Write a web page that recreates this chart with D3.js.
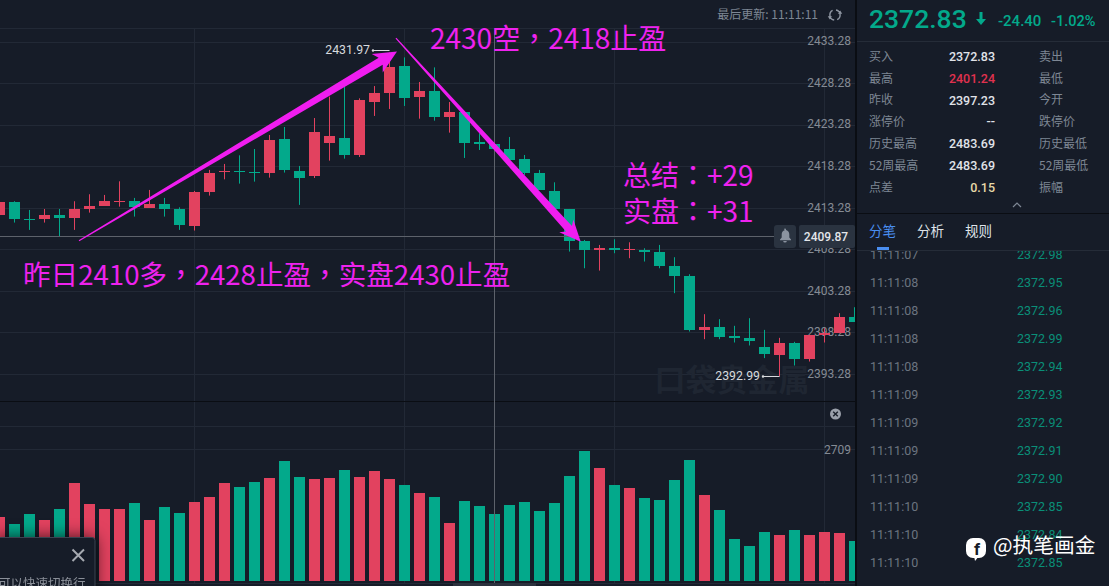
<!DOCTYPE html>
<html>
<head>
<meta charset="utf-8">
<title>chart</title>
<script src="https://cdn.jsdelivr.net/npm/d3@7"></script>
<style>
html, body { margin: 0; padding: 0; background: #161c28; overflow: hidden; }
svg { display: block; }
text { font-family: Roboto, "Noto Sans CJK SC", sans-serif; }
.cjk { font-family: "Noto Sans CJK SC", sans-serif; }
.note { font-family: "Noto Sans CJK TC", sans-serif; }
</style>
</head>
<body>
<div id="chart"></div>
<script>
// candles, one entry per bar
var opens = [2412.42,2413.99,2411.94,2411.94,2412.42,2412.06,2413.14,2413.51,2413.99,2414.11,2413.26,2413.75,2413.14,2411.10,2415.19,2417.60,2417.72,2417.60,2417.48,2421.57,2417.72,2417.12,2421.09,2421.69,2419.64,2426.02,2427.10,2430.35,2426.62,2427.34,2424.21,2424.82,2421.21,2420.97,2420.36,2419.16,2417.48,2415.31,2413.14,2409.29,2408.21,2408.45,2408.21,2408.21,2407.97,2406.29,2405.08,2398.58,2398.95,2397.86,2397.62,2396.54,2395.58,2397.02,2395.10,2397.98,2398.22,2400.15];
var closes = [2413.95,2411.94,2411.82,2412.42,2412.06,2413.14,2413.51,2414.11,2414.11,2413.38,2413.75,2413.14,2411.22,2415.19,2417.48,2417.72,2417.60,2417.48,2421.45,2417.84,2416.87,2422.41,2421.93,2419.64,2426.26,2427.10,2430.23,2426.50,2427.34,2424.21,2424.82,2421.09,2420.97,2420.36,2419.04,2417.48,2415.43,2413.14,2409.29,2408.21,2408.45,2408.21,2408.33,2408.01,2406.29,2405.08,2398.58,2398.95,2397.74,2397.62,2397.26,2395.70,2397.02,2395.10,2397.98,2398.22,2400.15,2399.55];
var highs = [2413.95,2414.07,2413.02,2413.14,2413.14,2414.07,2414.91,2414.83,2416.47,2414.47,2415.43,2414.47,2413.34,2415.31,2417.84,2418.56,2419.60,2420.36,2422.05,2423.01,2418.32,2424.09,2426.66,2427.86,2426.46,2427.94,2431.97,2431.39,2428.43,2430.19,2426.02,2424.82,2422.25,2421.65,2421.81,2419.64,2417.84,2416.35,2413.14,2409.41,2408.81,2409.49,2409.13,2408.41,2408.81,2407.33,2405.28,2400.47,2399.87,2399.07,2399.99,2398.58,2397.62,2397.14,2397.98,2398.78,2400.59,2401.31];
var lows = [2412.42,2411.50,2410.62,2411.50,2409.82,2410.62,2412.70,2413.51,2413.42,2412.22,2413.26,2412.22,2410.62,2410.54,2414.75,2416.71,2416.19,2416.43,2416.91,2417.52,2413.63,2416.87,2418.96,2419.20,2419.40,2424.34,2425.18,2425.54,2424.01,2423.77,2422.33,2419.28,2420.24,2419.24,2418.56,2417.24,2415.43,2413.02,2408.01,2406.00,2405.72,2407.81,2407.21,2406.81,2406.00,2403.00,2398.38,2397.46,2397.46,2397.06,2396.70,2395.18,2392.99,2394.29,2394.77,2397.06,2398.18,2399.55];
var volumes = [1323,1173,1385,1262,1488,2023,1591,1488,1488,1611,1262,1529,1406,1632,1735,2023,1941,2043,2126,2475,2146,2105,2126,2290,2146,2270,2105,1982,1817,1728,1200,1646,1543,1378,1563,1625,1440,1605,2160,2674,2325,1975,1913,1707,1666,2078,2489,1769,1461,864,720,1008,946,1049,946,1008,987,823];

var priceTicks = [2433.28,2428.28,2423.28,2418.28,2413.28,2408.28,2403.28,2398.28,2393.28];
var volumeTicks = [2709];
var gridBars = [13,27,41,55];
var lastPrice = 2409.87;
var crossBar = 33;

// quote panel
var quoteLabels = ["买入","最高","昨收","涨停价","历史最高","52周最高","点差"];
var quoteValues = ["2372.83","2401.24","2397.23","--","2483.69","2483.69","0.15"];
var quoteLabels2 = ["卖出","最低","今开","跌停价","历史最低","52周最低","振幅"];
var tabNames = ["分笔","分析","规则"];
var tradeTimes = ["11:11:07","11:11:08","11:11:08","11:11:08","11:11:08","11:11:09","11:11:09","11:11:09","11:11:09","11:11:10","11:11:10","11:11:10"];
var tradePrices = ["2372.98","2372.95","2372.96","2372.99","2372.94","2372.93","2372.92","2372.91","2372.90","2372.85","2372.84","2372.85"];

// hand drawn arrows, [bar, price]
var arrowUp = [[5.3,2409.3],[26.5,2432.1]];
var arrowDown = [[26.43,2433.7],[38.75,2409.2]];

var red = "#e2425f", green = "#03a98b", pink = "#f01df0", grid = "#222936", bg = "#161c28";
var width = 1109, height = 586, chartW = 855;

var svg = d3.select("#chart").append("svg").attr("width", width).attr("height", height);
svg.append("rect").attr("width", width).attr("height", height).attr("fill", bg);

var defs = svg.append("defs");
defs.append("clipPath").attr("id", "plot").append("rect").attr("width", chartW).attr("height", height);
defs.append("clipPath").attr("id", "trades").append("rect").attr("x", 857).attr("y", 251).attr("width", 252).attr("height", 335);
defs.append("clipPath").attr("id", "popup").append("rect").attr("x", -10).attr("y", 537).attr("width", 105).attr("height", 49);

var x = d3.scaleLinear().domain([0, 57]).range([-0.5, 854.5]);
var y = d3.scaleLinear().domain([2433.28, 2393.28]).range([41.7, 373.9]);
var yVol = d3.scaleLinear().domain([0, 2709]).range([581, 449.3]);
var pt = function (d) { return [x(d[0]), y(d[1])]; };
var isUp = function (i) { return closes[i] >= opens[i]; };

var plot = svg.append("g").attr("clip-path", "url(#plot)");

// grid
plot.append("line").attr("x1", 0).attr("x2", chartW).attr("y1", 28.5).attr("y2", 28.5).attr("stroke", grid);
plot.append("line").attr("x1", 0).attr("x2", chartW).attr("y1", 426.5).attr("y2", 426.5).attr("stroke", grid);
plot.append("line").attr("x1", 0).attr("x2", chartW).attr("y1", 583.5).attr("y2", 583.5).attr("stroke", grid);
plot.selectAll(".vgrid").data(gridBars).enter().append("line")
    .attr("x1", function (d) { return x(d); }).attr("x2", function (d) { return x(d); })
    .attr("y1", 28).attr("y2", 584).attr("stroke", grid);

var priceAxis = d3.axisRight(y).tickValues(priceTicks).tickSize(-chartW).tickFormat(d3.format(".2f"));
var pa = plot.append("g").attr("transform", "translate(855,0)").call(priceAxis);
pa.select(".domain").remove();
pa.selectAll("line").attr("stroke", grid).attr("shape-rendering", "crispEdges");
pa.selectAll("text").attr("x", -4).attr("y", -1).attr("dy", "0.35em").attr("text-anchor", "end")
    .attr("fill", "#858b94").style("font-size", "12px").style("font-family", "Roboto");

var volAxis = d3.axisRight(yVol).tickValues(volumeTicks).tickSize(-chartW);
var va = plot.append("g").attr("transform", "translate(855,0)").call(volAxis);
va.select(".domain").remove();
va.selectAll("line").attr("stroke", grid).attr("shape-rendering", "crispEdges");
va.selectAll("text").attr("x", -4).attr("dy", "0.35em").attr("text-anchor", "end")
    .attr("fill", "#858b94").style("font-size", "12px").style("font-family", "Roboto")
    .text(function (d) { return d; });

// watermark sits under the candles
plot.append("text").attr("class", "cjk").attr("x", 732).attr("y", 391).attr("text-anchor", "middle")
    .attr("fill", "#1f2632").style("font-size", "31px").style("font-weight", "700").text("口袋贵金属");

var bars = d3.range(opens.length);

plot.selectAll(".wick").data(bars).enter().append("line")
    .attr("x1", function (i) { return Math.floor(x(i)) + 0.5; })
    .attr("x2", function (i) { return Math.floor(x(i)) + 0.5; })
    .attr("y1", function (i) { return y(highs[i]); })
    .attr("y2", function (i) { return y(lows[i]); })
    .attr("stroke", function (i) { return isUp(i) ? red : green; });

plot.selectAll(".body").data(bars).enter().append("rect")
    .attr("x", function (i) { return Math.floor(x(i)) - 5; })
    .attr("width", 11)
    .attr("y", function (i) { return y(Math.max(opens[i], closes[i])); })
    .attr("height", function (i) { return Math.max(1, Math.abs(y(opens[i]) - y(closes[i]))); })
    .attr("fill", function (i) { return isUp(i) ? red : green; })
    .attr("shape-rendering", "crispEdges");

plot.selectAll(".vol").data(bars).enter().append("rect")
    .attr("x", function (i) { return Math.floor(x(i)) - 5; })
    .attr("width", 11)
    .attr("y", function (i) { return yVol(volumes[i]); })
    .attr("height", function (i) { return yVol(0) - yVol(volumes[i]); })
    .attr("fill", function (i) { return isUp(i) ? red : green; })
    .attr("shape-rendering", "crispEdges");

// pane separator
plot.append("line").attr("x1", 0).attr("x2", chartW).attr("y1", 401.5).attr("y2", 401.5).attr("stroke", "#0a0d13");

// crosshair
var crossY = Math.floor(y(lastPrice)) + 0.5;
plot.append("line").attr("x1", 0).attr("x2", 775).attr("y1", crossY).attr("y2", crossY).attr("stroke", "#5d626b");
plot.append("line").attr("x1", x(crossBar)).attr("x2", x(crossBar)).attr("y1", 28).attr("y2", 586).attr("stroke", "#5d626b");

// high / low markers
function extreme(label, bar, price, labelX, shift) {
    var ly = Math.round(y(price) + shift) + 0.5;
    plot.append("text").attr("x", labelX).attr("y", ly - 1).attr("dy", "0.35em").attr("text-anchor", "end")
        .attr("fill", "#d8dade").style("font-size", "12.3px").text(label);
    plot.append("line").attr("x1", labelX + 3).attr("x2", x(bar)).attr("y1", ly).attr("y2", ly).attr("stroke", "#d8dade");
    plot.append("circle").attr("cx", labelX + 3).attr("cy", ly).attr("r", 1.2).attr("fill", "#d8dade");
}
extreme("2431.97", 26, 2431.97, 370, -2.5);
extreme("2392.99", 52, 2392.99, 760, 0);

// volume pane close button
plot.append("circle").attr("cx", 835.5).attr("cy", 414).attr("r", 5.5).attr("fill", "#9aa0aa");
plot.append("path").attr("d", "M833.2 411.7L837.8 416.3M837.8 411.7L833.2 416.3").attr("stroke", "#1a202b").attr("stroke-width", 1.4);

// header on top of the chart
svg.append("text").attr("class", "cjk").attr("x", 818).attr("y", 18.5).attr("text-anchor", "end")
    .attr("fill", "#7e8794").style("font-size", "12px").text("最后更新: 11:11:11");
var arc = d3.arc().innerRadius(4.4).outerRadius(5.8);
svg.append("path").attr("transform", "translate(835,15)").attr("fill", "#8f96a2")
    .attr("d", arc({ startAngle: 0.2, endAngle: 2.7 }) + arc({ startAngle: 3.3, endAngle: 5.8 }) + "M5.2-4.6l2 3.400h-4.200zM-5.200 4.600l-2-3.400h4.200z");

// bell and last price tag
svg.append("rect").attr("x", 774).attr("y", 225).attr("width", 22).attr("height", 23).attr("rx", 3).attr("fill", "#2a3340");
svg.append("path").attr("transform", "translate(785,236)").attr("fill", "#8b93a0")
    .attr("d", "M-1-6.5a1 1 0 0 1 2 0v.6c2.4.5 3.3 2.6 3.3 4.6v2.8l1.7 2v.7h-11v-.7l1.7-2v-2.8c0-2 .9-4.100 3.300-4.600zM-1.800 5h3.600a1.800 1.600 0 0 1-3.600 0z");
svg.append("rect").attr("x", 799).attr("y", 225).attr("width", 56).attr("height", 23).attr("rx", 2).attr("fill", "#2a3340");
svg.append("text").attr("x", 826).attr("y", 236.5).attr("dy", "0.35em").attr("text-anchor", "middle")
    .attr("fill", "#e4e6ea").style("font-size", "12px").style("font-weight", "500").text(lastPrice.toFixed(2));

// arrows, a thin wedge growing to a barbed head
function drawArrow(ends, headLen, headHalf, neckHalf) {
    var a = pt(ends[0]), b = pt(ends[1]);
    var dx = b[0] - a[0], dy = b[1] - a[1], len = Math.sqrt(dx * dx + dy * dy);
    var ux = dx / len, uy = dy / len, nx = -uy, ny = ux;
    var nk = [b[0] - ux * headLen, b[1] - uy * headLen];
    var tailHalf = 0.6;
    var points = [
        [a[0] + nx * tailHalf, a[1] + ny * tailHalf],
        [nk[0] + ux * 4 + nx * neckHalf, nk[1] + uy * 4 + ny * neckHalf],
        [nk[0] + nx * headHalf, nk[1] + ny * headHalf],
        b,
        [nk[0] - nx * headHalf, nk[1] - ny * headHalf],
        [nk[0] + ux * 4 - nx * neckHalf, nk[1] + uy * 4 - ny * neckHalf],
        [a[0] - nx * tailHalf, a[1] - ny * tailHalf]
    ];
    plot.append("polygon").attr("points", points.join(" ")).attr("fill", pink);
}
drawArrow(arrowUp, 23, 10.7, 4);
drawArrow(arrowDown, 21.5, 9.5, 4);

// annotations
function note(txt, tx, ty, size) {
    svg.append("text").attr("class", "note").attr("x", tx).attr("y", ty).attr("fill", "#ee22ee")
        .style("font-size", size + "px").text(txt);
}
note("2430空，2418止盈", 430, 49, 28);
note("昨日2410多，2428止盈，实盘2430止盈", 23, 285, 27.6);
note("总结：+29", 623, 186, 28);
note("实盘：+31", 623, 222, 28);

// little tip box, bottom left
var tip = svg.append("g").style("filter", "drop-shadow(0 0 8px rgba(0,0,0,0.7))");
tip.append("rect").attr("x", -4).attr("y", 537.5).attr("width", 99).attr("height", 60).attr("rx", 3)
    .attr("fill", bg).attr("stroke", "#3b4250");
tip.append("path").attr("d", "M72.500 549.500L84 561M84 549.500L72.500 561").attr("stroke", "#a5a9b0").attr("stroke-width", 2);
tip.append("g").attr("clip-path", "url(#popup)").append("text").attr("class", "cjk").attr("x", -2).attr("y", 588)
    .attr("fill", "#8a8f98").style("font-size", "12.500px").text("可以快速切换行");

// scrollbar
svg.append("rect").attr("x", 453).attr("y", 583).attr("width", 83).attr("height", 3).attr("fill", "#2b313d");

// right panel
var panel = svg.append("g");
panel.append("rect").attr("x", 855).attr("y", 0).attr("width", 2).attr("height", height).attr("fill", "#0a0d13");
panel.append("text").attr("x", 869).attr("y", 28).attr("fill", green)
    .style("font-size", "26.500px").style("font-weight", "500").text("2372.83");
panel.append("path").attr("fill", green)
    .attr("d", "M979.500 12h3v7h3.500l-5 6-5-6h3.500z");
panel.append("text").attr("x", 998).attr("y", 26).attr("fill", green).style("font-size", "15px").style("font-weight", "500").text("-24.40");
panel.append("text").attr("x", 1051).attr("y", 26).attr("fill", green).style("font-size", "14.500px").style("font-weight", "500").text("-1.02%");
panel.append("line").attr("x1", 857).attr("x2", width).attr("y1", 41.5).attr("y2", 41.5).attr("stroke", "#252c38");

var rowY = d3.scaleLinear().domain([0, 6]).range([56.5, 187.5]);
panel.selectAll(".ql").data(quoteLabels).enter().append("text").attr("class", "cjk")
    .attr("x", 869).attr("y", function (d, i) { return rowY(i); }).attr("dy", "0.35em")
    .attr("fill", "#7e8794").style("font-size", "12px").text(function (d) { return d; });
panel.selectAll(".qv").data(quoteValues).enter().append("text")
    .attr("x", 995).attr("y", function (d, i) { return rowY(i); }).attr("dy", "0.35em").attr("text-anchor", "end")
    .attr("fill", function (d, i) { return i === 1 ? "#e0314f" : (i === 6 ? "#e8d9a8" : "#e0e3e8"); })
    .style("font-size", "12.500px").style("font-weight", "500").text(function (d) { return d; });
panel.selectAll(".ql2").data(quoteLabels2).enter().append("text").attr("class", "cjk")
    .attr("x", 1039).attr("y", function (d, i) { return rowY(i); }).attr("dy", "0.35em")
    .attr("fill", "#7e8794").style("font-size", "12px").text(function (d) { return d; });

panel.append("path").attr("d", "M1013 207L1017 203L1021 207").attr("fill", "none").attr("stroke", "#7e8794").attr("stroke-width", 1.2);
panel.append("line").attr("x1", 857).attr("x2", width).attr("y1", 213.5).attr("y2", 213.5).attr("stroke", "#0a0d13");

panel.selectAll(".tab").data(tabNames).enter().append("text").attr("class", "cjk")
    .attr("x", function (d, i) { return 869 + i * 48; }).attr("y", 231).attr("dy", "0.35em")
    .attr("fill", function (d, i) { return i === 0 ? "#4a8ef0" : "#dfe3e8"; })
    .style("font-size", "13.500px").text(function (d) { return d; });
panel.append("rect").attr("x", 877).attr("y", 247).attr("width", 12).attr("height", 3).attr("fill", "#4a8ef0");
panel.append("line").attr("x1", 857).attr("x2", width).attr("y1", 250.5).attr("y2", 250.5).attr("stroke", "#252c38");

var tradeY = d3.scaleLinear().domain([0, 11]).range([255, 563]);
var trades = panel.append("g").attr("clip-path", "url(#trades)");
trades.selectAll(".tt").data(tradeTimes).enter().append("text")
    .attr("x", 870).attr("y", function (d, i) { return tradeY(i); }).attr("dy", "0.35em")
    .attr("fill", "#6c7480").style("font-size", "12.500px").text(function (d) { return d; });
trades.selectAll(".tp").data(tradePrices).enter().append("text")
    .attr("x", 1017).attr("y", function (d, i) { return tradeY(i); }).attr("dy", "0.35em")
    .attr("fill", "#0a8f78").style("font-size", "12.500px").text(function (d) { return d; });

// source mark over the list
panel.append("rect").attr("x", 966).attr("y", 538).attr("width", 20).attr("height", 20).attr("rx", 7).attr("fill", "#fff");
panel.append("path").attr("d", "M974 556l5 0l-4 5z").attr("fill", "#fff");
panel.append("text").attr("x", 977).attr("y", 555).attr("text-anchor", "middle").attr("fill", bg)
    .style("font-size", "17px").style("font-weight", "700").text("f");
panel.append("text").attr("class", "cjk").attr("x", 993).attr("y", 553).attr("fill", "#fff")
    .style("font-size", "20.700px").text("@执笔画金");
</script>
</body>
</html>
